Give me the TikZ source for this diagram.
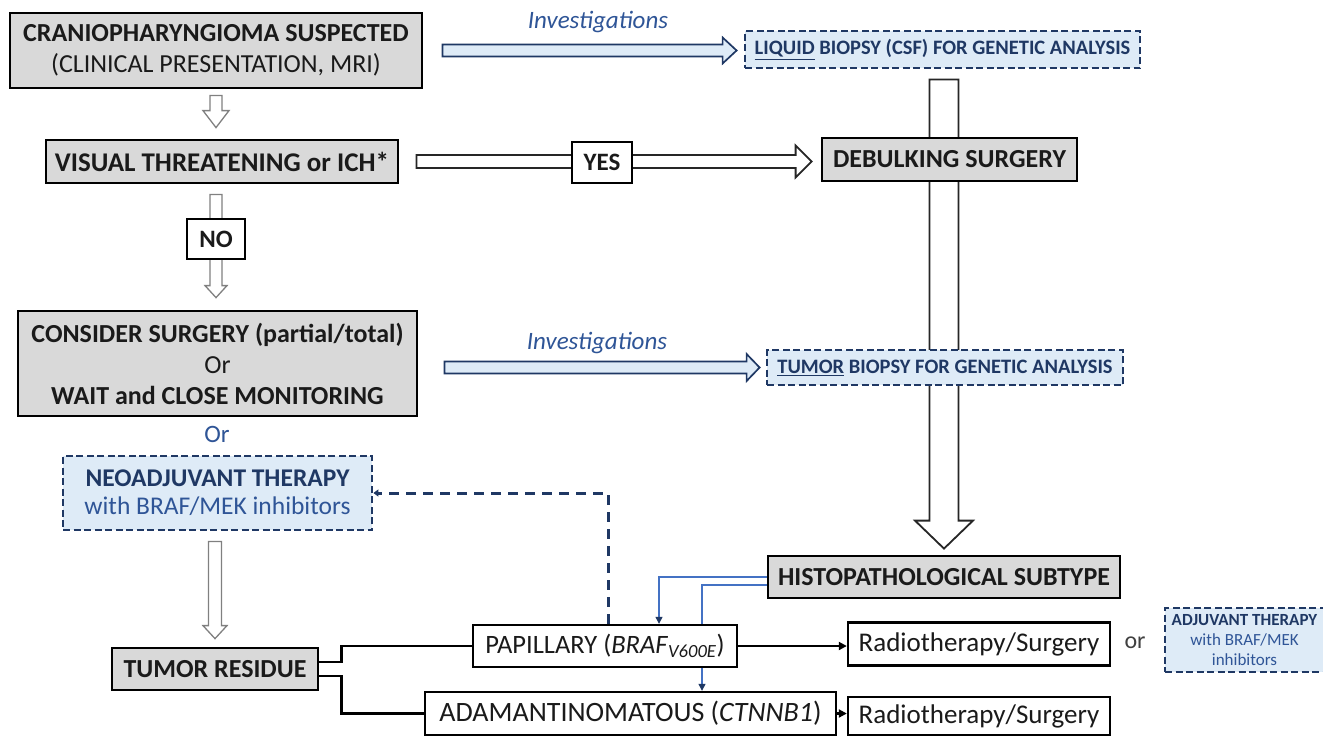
\documentclass[tikz,border=0pt]{standalone}
\usepackage{fontspec}
\setmainfont{Carlito}
\usetikzlibrary{calc,arrows.meta}
\definecolor{boxgray}{HTML}{D9D9D9}
\definecolor{navy}{HTML}{1F3864}
\definecolor{midblue}{HTML}{2F5597}
\definecolor{lightblue}{HTML}{DEEBF7}
\definecolor{lineblue}{HTML}{4472C4}
\definecolor{txt}{HTML}{1A1A1A}
\pgfdeclarelayer{paper}
\pgfdeclarelayer{background}
\pgfsetlayers{paper,background,main}
\newcommand\fsz[2]{\fontsize{#1}{#2}\selectfont}
\newcommand\hollowV[6]{\draw[#1] let \p1=#2, \p2=#3 in (\x1-#4,\y1) -- (\x1-#4,\y2+#6) -- (\x1-#5,\y2+#6) -- (\x1,\y2) -- (\x1+#5,\y2+#6) -- (\x1+#4,\y2+#6) -- (\x1+#4,\y1) -- cycle;}
\newcommand\hollowH[6]{\draw[#1] let \p1=#2, \p2=#3 in (\x1,\y1-#4) -- (\x2-#6,\y1-#4) -- (\x2-#6,\y1-#5) -- (\x2,\y1) -- (\x2-#6,\y1+#5) -- (\x2-#6,\y1+#4) -- (\x1,\y1+#4) -- cycle;}
\begin{document}
\begin{tikzpicture}[x=1pt,y=-1pt,
 graybox/.style={draw=black, line width=2.8pt, fill=boxgray, inner sep=0pt, align=center, text=txt},
 whitebox/.style={draw=black, line width=2.4pt, fill=white, inner sep=0pt, align=center, text=txt},
 dashbox/.style={draw=navy, line width=2.8pt, dash pattern=on 7pt off 3.5pt, fill=lightblue, inner sep=0pt, align=center, text=navy},
 hollowgray/.style={draw=black!50, fill=white, line width=1.3pt},
 hollowdark/.style={draw=black!85, fill=white, line width=1.8pt},
 hollowblue/.style={draw=navy, fill=lightblue, line width=1.7pt},
 bline/.style={draw=lineblue, line width=1.2pt, -{Triangle[width=7pt,length=7pt,color=navy]}},
 dline/.style={draw=navy, line width=3pt, dash pattern=on 10pt off 7pt, -{Triangle[width=7pt,length=5pt]}},
 cline/.style={draw=black, line width=2.2pt},
 carrow/.style={draw=black, line width=2.2pt, -{Triangle[width=8pt,length=8pt]}},
 lbl/.style={inner sep=0pt}
]
\useasboundingbox (0,0) rectangle (1323,737);
\begin{pgfonlayer}{paper}
\fill[white] (0,0) rectangle (1323,737);
\end{pgfonlayer}

% left column
\node[graybox, minimum width=412pt, minimum height=75pt, font=\fsz{26}{31}] (cranio) at (216,50.5)
  {\bfseries CRANIOPHARYNGIOMA SUSPECTED\\(CLINICAL PRESENTATION, MRI)};
\node[graybox, minimum width=352pt, minimum height=43pt, font=\fsz{27}{30}\bfseries] (visual) at (222,161.5)
  {VISUAL THREATENING or ICH*};
\node[whitebox, minimum width=58pt, minimum height=40pt, font=\fsz{25}{28}\bfseries] (no) at (216,239) {NO};
\node[graybox, minimum width=399pt, minimum height=105pt, font=\fsz{26}{31}\bfseries] (consider) at (217.5,363.5)
  {CONSIDER SURGERY (partial/total)\\\mdseries Or\\WAIT and CLOSE MONITORING};
\node[lbl, text=midblue, font=\fsz{25}{28}] (or1) at (217,434) {Or};
\node[dashbox, minimum width=309pt, minimum height=74pt, font=\fsz{25.5}{28}] (neoadj) at (217.5,493)
  {\bfseries NEOADJUVANT THERAPY\\\color{midblue}with BRAF/MEK inhibitors};
\node[graybox, minimum width=206pt, minimum height=42pt, font=\fsz{26}{28}\bfseries] (tumres) at (215,669) {TUMOR RESIDUE};

% right column
\node[lbl, text=midblue, font=\fsz{25}{28}\itshape] (inv1) at (598,22) {Investigations};
\node[dashbox, minimum width=395pt, minimum height=37pt, font=\fsz{20.5}{22}\bfseries] (liquid) at (942.5,49.5)
  {\underline{LIQUID} BIOPSY (CSF) FOR GENETIC ANALYSIS};
\node[whitebox, minimum width=60pt, minimum height=41pt, font=\fsz{25}{28}\bfseries] (yes) at (602,162.5) {YES};
\node[graybox, minimum width=255pt, minimum height=43pt, font=\fsz{26}{30}\bfseries] (debulk) at (949.5,159.5) {DEBULKING SURGERY};
\node[lbl, text=midblue, font=\fsz{25}{28}\itshape] (inv2) at (597,343) {Investigations};
\node[dashbox, minimum width=356pt, minimum height=35pt, font=\fsz{20.5}{22}\bfseries] (tumbiop) at (945,367.5)
  {\underline{TUMOR} BIOPSY FOR GENETIC ANALYSIS};
\node[graybox, minimum width=352pt, minimum height=42pt, font=\fsz{26}{30}\bfseries] (histo) at (944,577) {HISTOPATHOLOGICAL SUBTYPE};

% bottom row
\node[whitebox, minimum width=264pt, minimum height=42pt, font=\fsz{26.5}{30}] (pap) at (605,646)
  {PAPILLARY (\textit{BRAF}\textsubscript{\textit{V600E}})};
\node[whitebox, minimum width=411pt, minimum height=43pt, font=\fsz{28}{30}] (adam) at (630.5,713.5)
  {ADAMANTINOMATOUS (\textit{CTNNB1})};
\node[whitebox, minimum width=262pt, minimum height=43pt, font=\fsz{27}{30}] (radio1) at (979,644) {Radiotherapy/Surgery};
\node[whitebox, minimum width=262pt, minimum height=38pt, font=\fsz{27}{30}] (radio2) at (979,716) {Radiotherapy/Surgery};
\node[lbl, text=black!75, font=\fsz{24}{28}] (or2) at (1135,643) {or};
\node[dashbox, minimum width=159pt, minimum height=64pt, font=\fsz{17}{20}] (adjuv) at (1244.5,640)
  {\bfseries ADJUVANT THERAPY\\\color{midblue}with BRAF/MEK\\\color{midblue}inhibitors};

% connectors
\begin{pgfonlayer}{background}
\hollowV{hollowgray}{($(cranio.south)+(0,6)$)}{($(visual.north)+(0,-11)$)}{6pt}{13pt}{17pt}
\hollowV{hollowgray}{($(no |- visual.south)+(0,10)$)}{($(no |- consider.north)+(0,-12)$)}{6pt}{11pt}{12pt}
\hollowV{hollowgray}{($(tumres |- neoadj.south)+(0,10)$)}{($(tumres.north)+(0,-8)$)}{6.5pt}{12pt}{13pt}
\hollowH{hollowblue}{($(cranio.east)+(19,0)$)}{($(liquid.west)+(-7,0)$)}{6pt}{13pt}{14pt}
\hollowH{hollowblue}{($(consider.east |- tumbiop.west)+(26,0)$)}{($(tumbiop.west)+(-6,0)$)}{6pt}{13.5pt}{13pt}
\hollowH{hollowdark}{($(visual.east)+(17,0)$)}{($(debulk.west)+(-9,0)$)}{6.5pt}{16pt}{16pt}
\hollowV{hollowdark}{($(histo.north |- liquid.south)+(0,10)$)}{($(histo.north)+(0,-6)$)}{14.5pt}{29pt}{28pt}

\draw[bline] (histo.west) -| ($(pap.north)+(54,0)$);
\draw[bline] ([yshift=-8pt]histo.west) -| ($(adam.north)+(71.5,0)$);
\end{pgfonlayer}
\draw[dline] ($(pap.north)+(3,0)$) |- (neoadj.east);
\draw[cline] ([yshift=7pt]tumres.east) -- ++(22,0) |- (pap.west);
\draw[cline] ([yshift=-7pt]tumres.east) -- ++(22,0) |- (adam.west);
\draw[carrow] (pap.east) -- (pap.east -| radio1.west);
\draw[carrow] (adam.east) -- (adam.east -| radio2.west);
\end{tikzpicture}
\end{document}
